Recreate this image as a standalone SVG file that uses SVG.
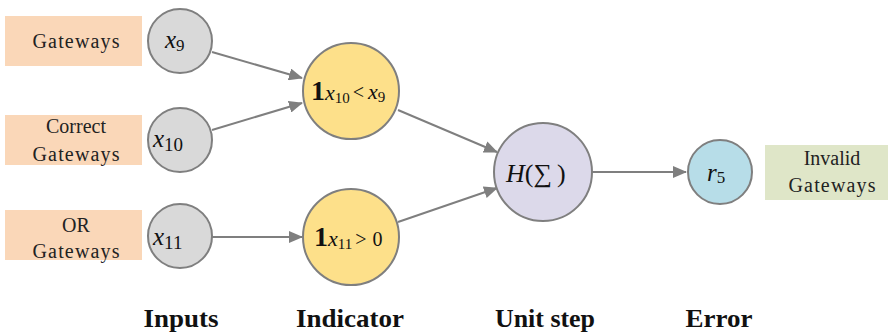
<svg xmlns="http://www.w3.org/2000/svg" width="890" height="334" viewBox="0 0 890 334">
<defs>
<marker id="ah" markerUnits="userSpaceOnUse" markerWidth="14" markerHeight="12" refX="13" refY="6" orient="auto">
<path d="M0,0 L14,6 L0,12 z" fill="#7f7f7f"/>
</marker>
<style>
.lbl{font-family:"Liberation Serif","Times New Roman",serif;font-size:20px;fill:#222;text-anchor:middle}
.hdr{font-family:"Liberation Serif","Times New Roman",serif;font-size:25px;font-weight:bold;fill:#111;text-anchor:middle}
.m{font-family:"Liberation Serif","Times New Roman",serif;fill:#111}
.it{font-style:italic}
.node{stroke:#7f7f7f;stroke-width:2}
.inp{fill:#d9d9d9}
.ind{fill:#fde08a}
.hs{fill:#dcd9ea}
.err{fill:#b7dde8}
.edge{stroke:#7f7f7f;stroke-width:2;fill:none;marker-end:url(#ah)}
</style>
</defs>
<rect width="890" height="334" fill="#ffffff"/>

<g id="lbl-gateways">
<rect x="5" y="16" width="137" height="50" fill="#fad7b8"/>
<text class="lbl" x="76" y="48" textLength="87" lengthAdjust="spacing">Gateways</text>
</g>
<g id="lbl-correct">
<rect x="5" y="115" width="137" height="50" fill="#fad7b8"/>
<text class="lbl" x="76" y="133">Correct</text>
<text class="lbl" x="76" y="161" textLength="87" lengthAdjust="spacing">Gateways</text>
</g>
<g id="lbl-or">
<rect x="5" y="210" width="137" height="50" fill="#fad7b8"/>
<text class="lbl" x="76" y="232">OR</text>
<text class="lbl" x="76" y="258" textLength="87" lengthAdjust="spacing">Gateways</text>
</g>

<g id="edges">
<line class="edge" x1="212" y1="52" x2="302" y2="78"/>
<line class="edge" x1="212" y1="130" x2="302" y2="103"/>
<line class="edge" x1="212" y1="237" x2="302" y2="237"/>
<line class="edge" x1="398" y1="110" x2="497" y2="152"/>
<line class="edge" x1="398" y1="222" x2="497" y2="188"/>
<line class="edge" x1="592" y1="172" x2="686" y2="172"/>
</g>

<g id="x9">
<circle class="node inp" cx="180" cy="41" r="32"/>
<text class="m" x="165" y="48"><tspan class="it" font-size="25">x</tspan><tspan font-size="17" dy="3">9</tspan></text>
</g>
<g id="x10">
<circle class="node inp" cx="180" cy="140" r="32"/>
<text class="m" x="153" y="147"><tspan class="it" font-size="25">x</tspan><tspan font-size="19" dy="4">10</tspan></text>
</g>
<g id="x11">
<circle class="node inp" cx="180" cy="236" r="32"/>
<text class="m" x="153" y="245"><tspan class="it" font-size="25">x</tspan><tspan font-size="19" dy="4">11</tspan></text>
</g>

<g id="ind1">
<circle class="node ind" cx="351" cy="91" r="48"/>
<text class="m" x="311" y="100"><tspan font-weight="bold" font-size="28">1</tspan><tspan class="it" font-size="22">x</tspan><tspan font-size="15" dy="3">10</tspan><tspan font-size="20" dy="-4" dx="3">&lt;</tspan><tspan class="it" font-size="22" dx="4">x</tspan><tspan font-size="15" dy="3">9</tspan></text>
</g>
<g id="ind2">
<circle class="node ind" cx="351" cy="237" r="48"/>
<text class="m" x="314" y="246"><tspan font-weight="bold" font-size="28">1</tspan><tspan class="it" font-size="22">x</tspan><tspan font-size="15" dy="3">11</tspan><tspan font-size="20" dy="-3" dx="3">&gt;</tspan><tspan font-size="20" dx="6">0</tspan></text>
</g>

<g id="unitstep">
<circle class="node hs" cx="543" cy="172" r="49"/>
<text class="m" x="506" y="182" font-size="26"><tspan class="it">H</tspan><tspan>(</tspan><tspan>∑</tspan><tspan dx="5">)</tspan></text>
</g>

<g id="r5">
<circle class="node err" cx="720" cy="172" r="32"/>
<text class="m" x="707" y="181"><tspan class="it" font-size="25">r</tspan><tspan font-size="17" dy="2">5</tspan></text>
</g>

<g id="lbl-invalid">
<rect x="765" y="145" width="123" height="55" fill="#dfe6c8"/>
<text class="lbl" x="832" y="165">Invalid</text>
<text class="lbl" x="832" y="192" textLength="87" lengthAdjust="spacing">Gateways</text>
</g>

<g id="headers">
<text class="hdr" x="181" y="327" textLength="75" lengthAdjust="spacingAndGlyphs">Inputs</text>
<text class="hdr" x="350" y="327" textLength="108" lengthAdjust="spacingAndGlyphs">Indicator</text>
<text class="hdr" x="545" y="327" textLength="100" lengthAdjust="spacingAndGlyphs">Unit step</text>
<text class="hdr" x="719" y="327" textLength="67" lengthAdjust="spacingAndGlyphs">Error</text>
</g>
</svg>
